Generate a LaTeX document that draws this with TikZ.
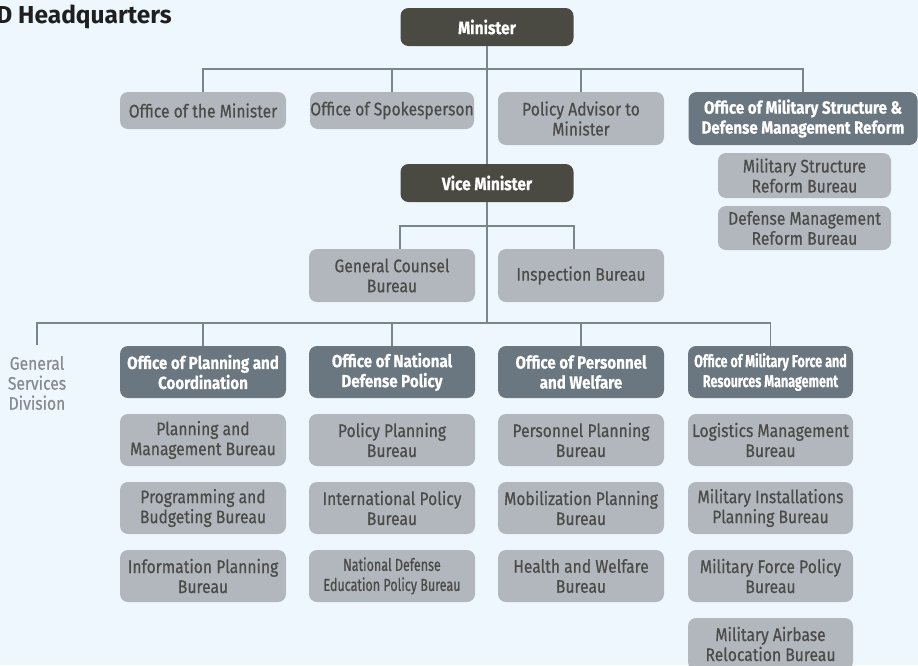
\documentclass[tikz,border=0pt]{standalone}
\usepackage{fontspec}
\setmainfont{Fira Sans}[FakeStretch=0.86, FakeBold=0.5]
\newfontfamily\titlefont{Fira Sans}
\newfontfamily\condfont{Fira Sans}[FakeStretch=0.72, FakeBold=0.5]
\definecolor{bg}{HTML}{EFF7FE}
\definecolor{darkbox}{HTML}{4A4A43}
\definecolor{headbox}{HTML}{6B7780}
\definecolor{lightbox}{HTML}{B1B7BD}
\definecolor{lighttext}{HTML}{4B4B48}
\definecolor{linec}{HTML}{7A868E}
\definecolor{gstext}{HTML}{858B90}
\tikzset{
  box/.style={rounded corners=8pt, align=center, inner sep=0pt, font=\fontsize{18.2}{20}\selectfont},
  topbox/.style={box, fill=darkbox, text=white, font=\fontsize{18}{20}\selectfont\bfseries, minimum width=173pt, minimum height=38pt},
  headerbox/.style={box, fill=headbox, text=white, font=\fontsize{17.6}{20}\selectfont\bfseries},
  unitbox/.style={box, fill=lightbox, text=lighttext},
  conn/.style={draw=linec, line width=1.5pt},
}
\begin{document}
\begin{tikzpicture}[x=1pt, y=-1pt]
\useasboundingbox (0,0) rectangle (918,665);
\fill[bg] (0,0) rectangle (918,665);
\begin{scope}
\clip (0,0) rectangle (918,665);
\node[anchor=base east, font=\titlefont\fontsize{24.5}{28}\selectfont\bfseries, text=black!88, inner sep=0pt] (title) at (172,23) {MND Headquarters};
% top level
\node[topbox] (minister) at (487,27) {Minister};
\node[unitbox, minimum width=166pt, minimum height=37pt] (offmin) at (203,110.5) {Office of the Minister};
\node[unitbox, minimum width=164pt, minimum height=37pt] (spokes) at (392,110.5) {Office of Spokesperson};
\node[unitbox, minimum width=166pt, minimum height=53pt] (advisor) at (581,118.5) {Policy Advisor to\\Minister};
\node[headerbox, minimum width=229pt, minimum height=53pt] (omsr) at (803,118.5) {Office of Military Structure \&\\Defense Management Reform};
\node[unitbox, minimum width=173pt, minimum height=45pt] (msrb) at (804.5,175.5) {Military Structure\\Reform Bureau};
\node[unitbox, minimum width=173pt, minimum height=44pt] (dmrb) at (804.5,228) {Defense Management\\Reform Bureau};
\node[topbox] (vice) at (487,183) {Vice Minister};
\node[unitbox, minimum width=166pt, minimum height=53pt] (gcb) at (392,275.5) {General Counsel\\Bureau};
\node[unitbox, minimum width=166pt, minimum height=53pt] (insp) at (581,275.5) {Inspection Bureau};
% third level
\node[align=center, inner sep=0pt, text=gstext, font=\fontsize{18.2}{20}\selectfont] (gsd) at (37,383) {General\\Services\\Division};
\node[headerbox, minimum width=166pt, minimum height=52pt] (opc) at (203,372) {Office of Planning and\\Coordination};
\node[headerbox, minimum width=166pt, minimum height=52pt] (ondp) at (392,372) {Office of National\\Defense Policy};
\node[headerbox, minimum width=166pt, minimum height=52pt] (opw) at (581,372) {Office of Personnel\\and Welfare};
\node[headerbox, minimum width=165pt, minimum height=52pt, font=\condfont\fontsize{17.4}{20}\selectfont\bfseries] (omfr) at (770.5,372) {Office of Military Force and\\Resources Management};
% column 1
\node[unitbox, minimum width=166pt, minimum height=52pt] (pmb) at (203,440) {Planning and\\Management Bureau};
\node[unitbox, minimum width=166pt, minimum height=52pt] (pbb) at (203,508) {Programming and\\Budgeting Bureau};
\node[unitbox, minimum width=166pt, minimum height=52pt] (ipb) at (203,576) {Information Planning\\Bureau};
% column 2
\node[unitbox, minimum width=166pt, minimum height=52pt] (ppb) at (392,440) {Policy Planning\\Bureau};
\node[unitbox, minimum width=166pt, minimum height=52pt] (intb) at (392,508) {International Policy\\Bureau};
\node[unitbox, minimum width=166pt, minimum height=52pt, font=\condfont\fontsize{17.4}{20}\selectfont] (ndeb) at (392,576) {National Defense\\Education Policy Bureau};
% column 3
\node[unitbox, minimum width=166pt, minimum height=52pt] (perb) at (581,440) {Personnel Planning\\Bureau};
\node[unitbox, minimum width=166pt, minimum height=52pt] (mobb) at (581,508) {Mobilization Planning\\Bureau};
\node[unitbox, minimum width=166pt, minimum height=52pt] (hwb) at (581,576) {Health and Welfare\\Bureau};
% column 4
\node[unitbox, minimum width=165pt, minimum height=52pt] (lmb) at (770.5,440) {Logistics Management\\Bureau};
\node[unitbox, minimum width=165pt, minimum height=52pt] (mipb) at (770.5,508) {Military Installations\\Planning Bureau};
\node[unitbox, minimum width=165pt, minimum height=52pt] (mfpb) at (770.5,576) {Military Force Policy\\Bureau};
\node[unitbox, minimum width=165pt, minimum height=52pt] (marb) at (770.5,644) {Military Airbase\\Relocation Bureau};
\end{scope}
% connectors
\coordinate (bus1) at (487,69);
\coordinate (bus2) at (487,226);
\coordinate (bus3) at (487,323);
\draw[conn] (minister.south) -- (vice.north);
\draw[conn] (vice.south) -- (bus3);
\draw[conn] (offmin.north) -- (offmin.north |- bus1) -- (omsr.north |- bus1) -- (omsr.north);
\draw[conn] (spokes.north) -- (spokes.north |- bus1);
\draw[conn] (advisor.north) -- (advisor.north |- bus1);
\draw[conn] (gcb.north -| 400,0) -- (400,226) -- (574,226) -- (insp.north -| 574,0);
\draw[conn] (gsd.north |- 0,345) -- (gsd.north |- bus3) -- (omfr.north |- bus3) -- (omfr.north);
\draw[conn] (opc.north) -- (opc.north |- bus3);
\draw[conn] (ondp.north) -- (ondp.north |- bus3);
\draw[conn] (opw.north) -- (opw.north |- bus3);
\end{tikzpicture}
\end{document}
